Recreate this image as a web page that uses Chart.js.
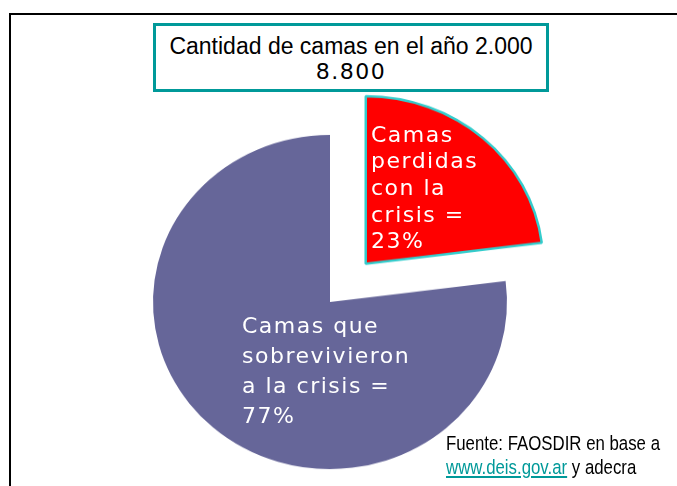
<!DOCTYPE html>
<html>
<head>
<meta charset="utf-8">
<script src="https://cdn.jsdelivr.net/npm/chart.js@4/dist/chart.umd.min.js"></script>
<style>
  html, body { margin: 0; padding: 0; background: #fff; }
  body { width: 677px; height: 486px; overflow: hidden; position: relative; }
  .abs { position: absolute; white-space: nowrap; }
  #frameTop { position: absolute; left: 9px; top: 13px; width: 668px; height: 2px; background: #000; }
  #frameLeft { position: absolute; left: 9px; top: 13px; width: 2px; height: 473px; background: #000; }
  #pie { position: absolute; left: 80px; top: 52px; transform: scaleY(0.944); transform-origin: 250px 250px; }
  #titleBox { position: absolute; left: 153px; top: 23px; width: 396px; height: 69px; box-sizing: border-box;
              border: 3.5px solid #009999; background: #fff; }
  .t1 { font-family: "Liberation Sans", Arial, sans-serif; font-size: 23px; line-height: 1; color: #000; width: 396px; left: 153px; text-align: center; }
  .t2 { font-family: "DejaVu Sans", sans-serif; font-size: 22px; letter-spacing: 1.5px; line-height: 1; color: #000; width: 396px; left: 153px; text-align: center; }
  .slab { font-family: "DejaVu Sans", sans-serif; font-size: 22px; letter-spacing: 1.5px; color: #fff; }
  .src { font-family: "Liberation Sans", Arial, sans-serif; font-size: 20.5px; line-height: 1; color: #000;
         transform: scaleX(0.82); transform-origin: 0 0; }
  .src a { color: #009999; text-decoration: underline; }
</style>
</head>
<body>
<div id="frameTop"></div>
<div id="frameLeft"></div>
<canvas id="pie" width="500" height="500"></canvas>
<div id="titleBox"></div>
<div class="abs t1" id="title1" style="top:34.5px"></div>
<div class="abs t2" id="title2" style="top:60.5px"></div>
<div class="abs slab" id="lab0" style="left:371px; top:121.8px; line-height:26.6px"></div>
<div class="abs slab" id="lab1" style="left:242px; top:311.4px; line-height:30px"></div>
<div class="abs src" style="left:446px; top:432.6px">Fuente: FAOSDIR en base a</div>
<div class="abs src" style="left:446px; top:456.6px"><a>www.deis.gov.ar</a> y adecra</div>
<script>
// ---- data ----
const categories = ["Camas perdidas con la crisis", "Camas que sobrevivieron a la crisis"];
const percentValues = [23, 77];
const labelLines = [
  ["Camas", "perdidas", "con la", "crisis =", "23%"],
  ["Camas que", "sobrevivieron", "a la crisis =", "77%"]
];
const titleLines = ["Cantidad de camas en el año 2.000", "8.800"];
const sliceColors = ["#FF0000", "#666699"];
const sliceBorders = ["#33CCCC", "rgba(0,0,0,0)"];

document.getElementById("title1").textContent = titleLines[0];
document.getElementById("title2").textContent = titleLines[1];
document.getElementById("lab0").innerHTML = labelLines[0].join("<br>");
document.getElementById("lab1").innerHTML = labelLines[1].join("<br>");

new Chart(document.getElementById("pie"), {
  type: "pie",
  data: {
    labels: categories,
    datasets: [{
      data: percentValues,
      backgroundColor: sliceColors,
      borderColor: sliceBorders,
      borderWidth: [2.5, 0],
      offset: [216, 0],
      radius: 177,
      clip: false
    }]
  },
  options: {
    responsive: false,
    animation: false,
    events: [],
    rotation: 0,
    layout: { padding: 0 },
    plugins: { legend: { display: false }, tooltip: { enabled: false }, title: { display: false } }
  }
});
</script>
</body>
</html>
